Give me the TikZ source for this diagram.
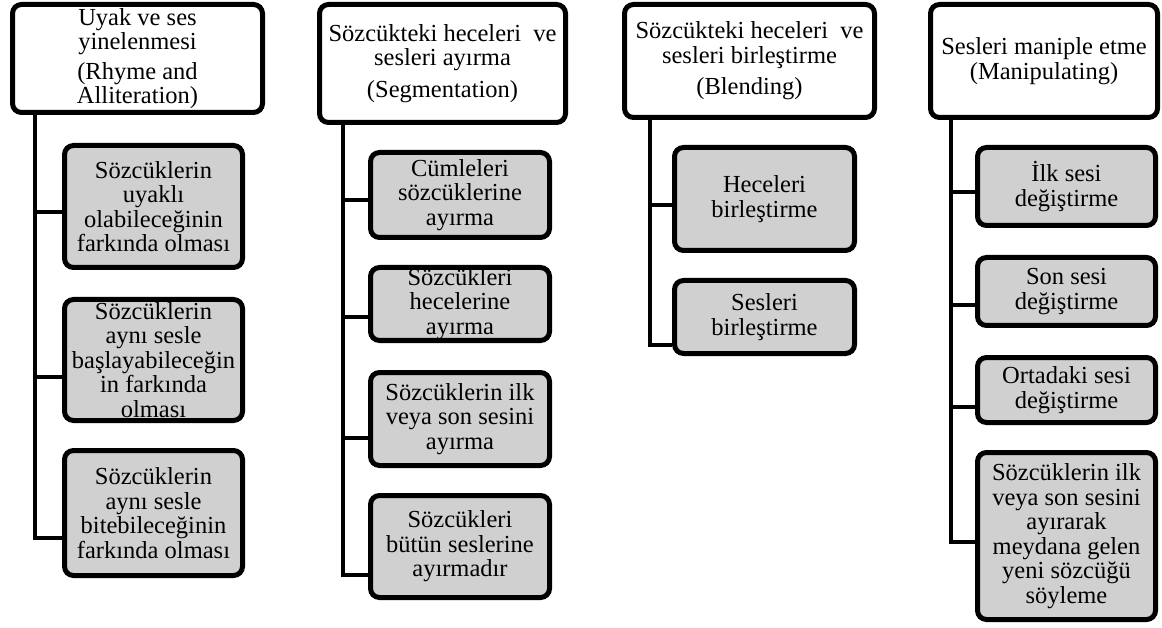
\documentclass[tikz,border=0pt]{standalone}
\usepackage{fontspec}
\setmainfont{Liberation Serif}
\usetikzlibrary{calc}
\usetikzlibrary{positioning}
\definecolor{boxgray}{RGB}{208,208,208}

\begin{document}
\begin{tikzpicture}[x=1pt,y=-1pt,every node/.style = {align=center,font=\fontsize{24.5}{24.5}\selectfont},
    headbox/.style = {draw,line width=5pt,rounded corners=9pt,fill=white,inner sep=0pt},
    itembox/.style = {draw,line width=5pt,rounded corners=9pt,fill=boxgray,inner sep=0pt},
    trunk/.style = {line width=4pt}]
\useasboundingbox (0,0) rectangle (1162,628);

\node[headbox,minimum width=250pt,minimum height=108pt] (h1) at (137.5,58.5) {Uyak ve ses\\yinelenmesi\\[5pt](Rhyme and\\Alliteration)};
\node[itembox,minimum width=178pt,minimum height=122pt] (c11) at (153.5,206.5) {Sözcüklerin\\uyaklı\\olabileceğinin\\farkında olması};
\node[itembox,minimum width=178pt,minimum height=121pt] (c12) at (153.5,360) {Sözcüklerin\\aynı sesle\\başlayabileceğin\\in farkında\\olması};
\node[itembox,minimum width=178pt,minimum height=125pt] (c13) at (153.5,513) {Sözcüklerin\\aynı sesle\\bitebileceğinin\\farkında olması};

\node[headbox,minimum width=246pt,minimum height=118pt] (h2) at (442.5,63.5) {Sözcükteki heceleri~ ve\\sesleri ayırma\\[7pt](Segmentation)};
\node[itembox,minimum width=179pt,minimum height=85pt] (c21) at (460,195) {Cümleleri\\sözcüklerine\\ayırma};
\node[itembox,minimum width=179pt,minimum height=73pt] (c22) at (460,304) {Sözcükleri\\hecelerine\\ayırma};
\node[itembox,minimum width=179pt,minimum height=93pt] (c23) at (460,419) {Sözcüklerin ilk\\veya son sesini\\ayırma};
\node[itembox,minimum width=179pt,minimum height=102pt] (c24) at (460,546.5) {Sözcükleri\\bütün seslerine\\ayırmadır};

\node[headbox,minimum width=250pt,minimum height=113pt] (h3) at (749.5,61) {Sözcükteki heceleri~ ve\\sesleri birleştirme\\[7pt](Blending)};
\node[itembox,minimum width=180pt,minimum height=103pt] (c31) at (764.5,199) {Heceleri\\birleştirme};
\node[itembox,minimum width=180pt,minimum height=73pt] (c32) at (764.5,317) {Sesleri\\birleştirme};

\node[headbox,minimum width=227pt,minimum height=113pt] (h4) at (1044,61) {Sesleri maniple etme\\(Manipulating)};
\node[itembox,minimum width=178pt,minimum height=78pt] (c41) at (1066.5,186.5) {İlk sesi\\değiştirme};
\node[itembox,minimum width=178pt,minimum height=68pt] (c42) at (1066.5,291.5) {Son sesi\\değiştirme};
\node[itembox,minimum width=178pt,minimum height=65pt] (c43) at (1066.5,390) {Ortadaki sesi\\değiştirme};
\node[itembox,minimum width=178pt,minimum height=167pt] (c44) at (1066.5,536) {Sözcüklerin ilk\\veya son sesini\\ayırarak\\meydana gelen\\yeni sözcüğü\\söyleme};

\coordinate (t1) at ($(h1.south west)+(24.5,0)$);
\coordinate (t2) at ($(h2.south west)+(25.5,0)$);
\coordinate (t3) at ($(h3.south west)+(27.5,0)$);
\coordinate (t4) at ($(h4.south west)+(22.5,0)$);

\draw[trunk] (t1) |- ([yshift=-5.5pt]c11.west) (t1) |- ([yshift=-17pt]c12.west) (t1) |- ([yshift=-25pt]c13.west);
\draw[trunk] (t2) |- ([yshift=-5pt]c21.west) (t2) |- ([yshift=-13pt]c22.west) (t2) |- ([yshift=-19pt]c23.west) (t2) |- ([yshift=-28.5pt]c24.west);
\draw[trunk] (t3) |- ([yshift=-6pt]c31.west) (t3) |- ([yshift=-28pt]c32.west);
\draw[trunk] (t4) |- ([yshift=-5.5pt]c41.west) (t4) |- ([yshift=-13.5pt]c42.west) (t4) |- ([yshift=-17pt]c43.west) (t4) |- ([yshift=-6pt]c44.west);
\end{tikzpicture}
\end{document}
